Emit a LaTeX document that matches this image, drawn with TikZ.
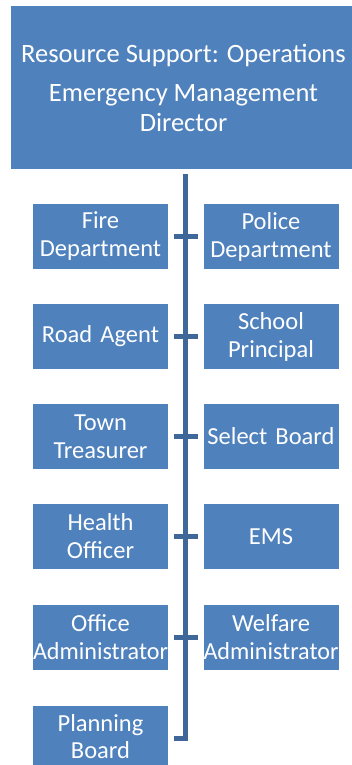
\documentclass[tikz,border=0pt]{standalone}
\usepackage{fontspec}
\setmainfont{Carlito}
\usepackage{xcolor}
\usepackage{graphicx}
\definecolor{boxblue}{HTML}{4F81BD}
\definecolor{lineblue}{HTML}{3F679A}
\usetikzlibrary{positioning}
\newcommand{\wideline}[1]{\resizebox{\linewidth}{\height}{#1}}

\begin{document}
\begin{tikzpicture}[x=1pt,y=-1pt,
    unit/.style={fill=boxblue, text=white, minimum width=135pt, text width=135pt,
      minimum height=65pt, inner sep=0pt, align=center,
      font=\fontsize{24.5}{28}\selectfont},
    link/.style={draw=lineblue, line width=5pt}]
  \useasboundingbox (0,0) rectangle (351,765);
  % top box
  \node[fill=boxblue, text=white, minimum width=345pt, minimum height=163pt, inner sep=0pt,
    align=center, font=\fontsize{26.5}{30}\selectfont] (emd) at (183.5,87.5)
    {Resource Support: Operations\\[9pt]Emergency Management\\Director};

  % units
  \node[unit] (fire)    at (100.5,236.5) {Fire\\Department};
  \node[unit] (police)  at (271,236.5)   {Police\\Department};
  \node[unit] (road)    at (100.5,336.5) {Road Agent};
  \node[unit] (school)  at (271,336.5)   {School\\Principal};
  \node[unit] (treas)   at (100.5,436.5) {Town\\Treasurer};
  \node[unit] (select)  at (271,436.5)   {Select Board};
  \node[unit] (health)  at (100.5,536.5) {Health\\Officer};
  \node[unit] (ems)     at (271,536.5)   {EMS};
  \node[unit] (office)  at (100.5,637.5) {Office\\\wideline{Administrator}};
  \node[unit] (welfare) at (271,637.5)   {Welfare\\\wideline{Administrator}};
  \node[unit] (plan)    at (100.5,738.5) {Planning\\[-1pt]Board\vspace{4pt}};

  % spine
  \coordinate (top) at (185.5,174);
  \coordinate (bot) at (185.5,738.5);
  \draw[link] (top) -- (bot) -- ([xshift=6pt]plan.east);
  \foreach \a/\b in {fire/police,road/school,treas/select,health/ems,office/welfare}{
    \draw[link] ([xshift=6pt]\a.east) -- ([xshift=-5pt]\b.west);
  }
\end{tikzpicture}
\end{document}
